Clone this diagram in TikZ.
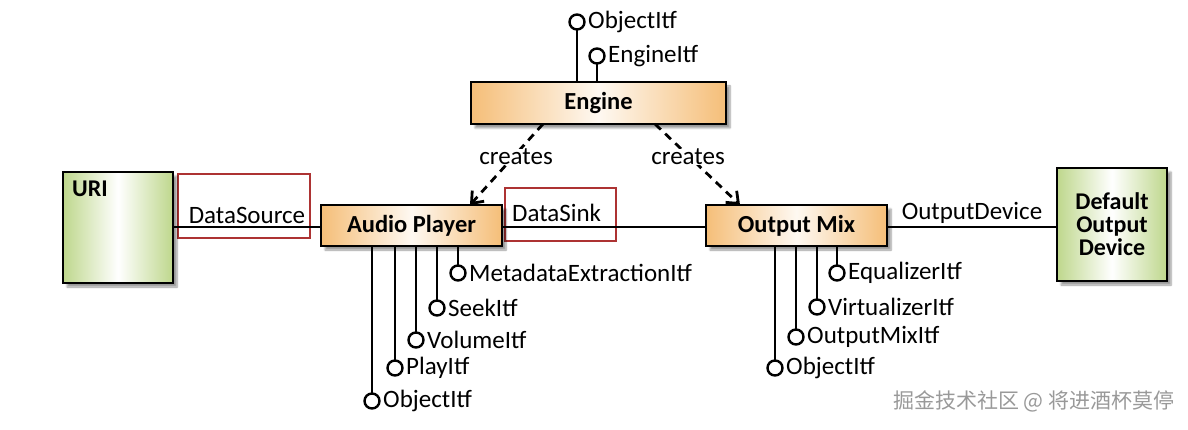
\documentclass[tikz,border=0pt]{standalone}
\usepackage{fontspec}
\setmainfont{Carlito}
\newfontfamily\cjk{Noto Sans CJK SC}
\usetikzlibrary{arrows.meta,shadows.blur}
\definecolor{peach}{RGB}{245,190,120}
\definecolor{olivegr}{RGB}{190,215,140}
\begin{document}
\begin{tikzpicture}[x=1pt,y=-1pt,
 comp/.style={draw=black,line width=2.8pt,left color=peach,right color=peach,middle color=white!90!peach,blur shadow={shadow xshift=4pt,shadow yshift=-4pt,shadow blur steps=6},font=\bfseries\fontsize{24.5}{26}\selectfont},
 green/.style={draw=black,line width=2.8pt,left color=olivegr,right color=olivegr,middle color=white,blur shadow={shadow xshift=4pt,shadow yshift=-4pt,shadow blur steps=6},font=\bfseries\fontsize{24}{26}\selectfont},
 lbl/.style={font=\fontsize{25}{27}\selectfont,inner sep=1pt},
 stem/.style={line width=2.8pt},
 itf/.style={circle,draw=black,line width=2.4pt,fill=white,minimum size=15pt,inner sep=0pt},
 redbox/.style={draw=red!60!black!80,line width=1.2pt},
 creat/.style={line width=2.8pt,dash pattern=on 8pt off 6pt,-{Straight Barb[length=10pt,width=16pt]}}]
\useasboundingbox (0,0) rectangle (1188,430);
% red boxes
\draw[redbox] (178,174) rectangle (310,238);
\draw[redbox] (505,188) rectangle (616,241);
% components
\node[green,minimum width=110pt,minimum height=111pt,inner sep=0pt] (uri) at (118,227.5) {};
\node[font=\bfseries\fontsize{24}{26}\selectfont,anchor=north west,inner sep=0pt] (urit) at (72,181) {URI};
\node[green,minimum width=110pt,minimum height=113pt,inner sep=0pt,align=center,font=\bfseries\fontsize{24}{23}\selectfont] (dod) at (1112,224.5) {Default\\Output\\Device};
\node[comp,minimum width=255pt,minimum height=42pt] (eng) at (598.5,103) {Engine};
\node[comp,minimum width=181pt,minimum height=41pt] (ap) at (411.5,225.5) {Audio Player};
\node[comp,minimum width=181pt,minimum height=41pt] (om) at (796.5,225.5) {Output Mix};
% connectors
\draw[stem] (uri.east |- 0,227) -- node[lbl,above=1pt]{DataSource} (ap.west |- 0,227);
\draw[stem] (ap.east |- 0,227) -- (om.west |- 0,227);
\node[lbl,anchor=base west] (ds) at (511,222) {DataSink};
\draw[stem] (om.east |- 0,227) -- node[lbl,above=1pt]{OutputDevice} (dod.west |- 0,227);
\coordinate (e1) at (543,124); \coordinate (e2) at (655,124);
\coordinate (a1) at (470,205); \coordinate (o1) at (740,205);
\draw[creat] (e1) -- (a1);
\draw[creat] (e2) -- (o1);
\node[lbl,fill=white,inner sep=0pt] at (516,157) {creates};
\node[lbl,fill=white,inner sep=0pt] at (688,157) {creates};
% interfaces
\newcommand\itfup[4]{%
 \draw[stem] (#1,#4) -- (#1,#2+7);
 \node[itf] at (#1,#2) {};
 \node[lbl,anchor=west] at (#1+10,#2) {#3};}
\newcommand\itfdn[4]{%
 \draw[stem] (#1,#4) -- (#1,#2-7);
 \node[itf] at (#1,#2) {};
 \node[lbl,anchor=west] at (#1+10,#2) {#3};}
\itfup{577}{22}{ObjectItf}{82}
\itfup{597}{56}{EngineItf}{82}
\itfdn{372}{401}{ObjectItf}{246}
\itfdn{395}{368}{PlayItf}{246}
\itfdn{416}{340}{VolumeItf}{246}
\itfdn{437}{308}{SeekItf}{246}
\itfdn{458}{273}{MetadataExtractionItf}{246}
\itfdn{775}{368}{ObjectItf}{246}
\itfdn{796}{337}{OutputMixItf}{246}
\itfdn{817}{307}{VirtualizerItf}{246}
\itfdn{837}{273}{EqualizerItf}{246}
\node[font=\cjk\fontsize{21}{23}\selectfont,text=black!40,anchor=east] (wm) at (1178,401) {掘金技术社区 @ 将进酒杯莫停};
\end{tikzpicture}
\end{document}
